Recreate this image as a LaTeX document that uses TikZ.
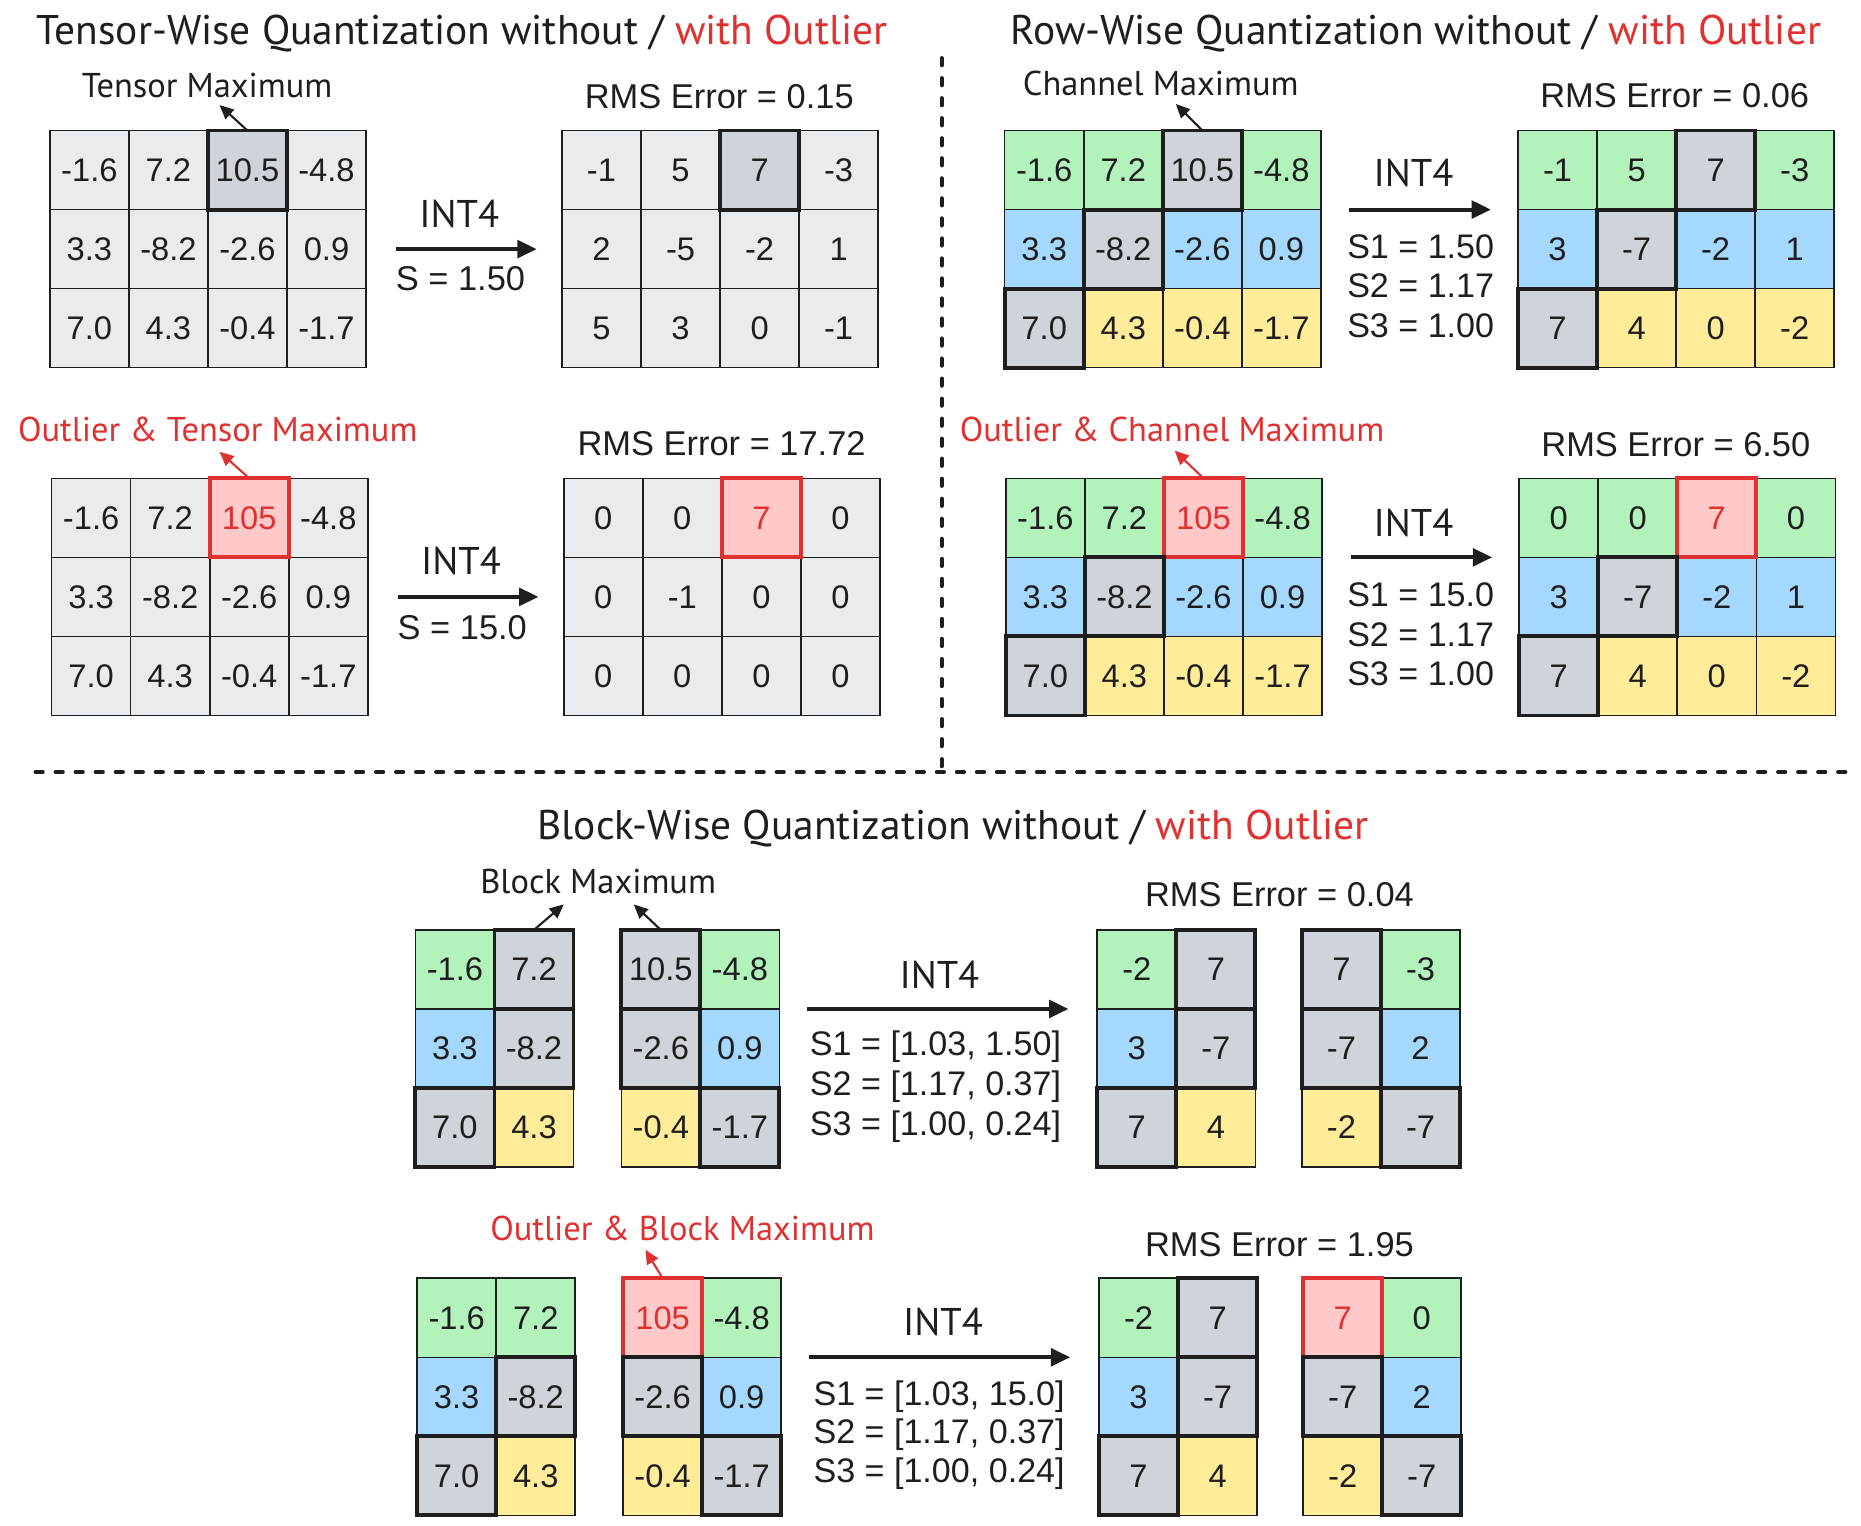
\documentclass[tikz,border=0pt]{standalone}
\usepackage{fontspec}
\setmainfont{Liberation Sans}
\newfontfamily\handfont{PT Sans}
\usetikzlibrary{arrows.meta, positioning}

\definecolor{ink}{HTML}{1E1E1E}
\definecolor{cellgray}{HTML}{E9ECEF}
\definecolor{maxgray}{HTML}{CED4DA}
\definecolor{rowgreen}{HTML}{B2F2BB}
\definecolor{rowblue}{HTML}{A5D8FF}
\definecolor{rowyellow}{HTML}{FFEC99}
\definecolor{outfill}{HTML}{FFC9C9}
\definecolor{outred}{HTML}{E03131}

% grid of cells: name, left, top, columns, list of style/value
\newcommand{\qgrid}[5]{%
  \foreach \s/\v [count=\i from 0] in {#5} {
    \pgfmathtruncatemacro{\c}{mod(\i,#4)}
    \pgfmathtruncatemacro{\r}{div(\i,#4)}
    \node[cell, \s] (#1-\i) at (#2+\c*66.6, #3+\r*66.6) {\v};
  }
  \foreach \s/\v [count=\i from 0] in {#5}
    \draw[\s-rim] (#1-\i.north west) rectangle (#1-\i.south east);
}

\begin{document}
\begin{tikzpicture}[x=0.011869cm, y=-0.011869cm,
  cell/.style={draw=ink, line width=0.45pt, minimum width=0.7905cm, minimum height=0.7905cm,
    inner sep=0pt, outer sep=0pt, anchor=north west, text=ink, font=\fontsize{9.3}{11}\selectfont},
  lg/.style={fill=cellgray}, gy/.style={fill=maxgray}, gn/.style={fill=rowgreen},
  bl/.style={fill=rowblue}, yl/.style={fill=rowyellow}, rd/.style={fill=outfill, text=outred},
  lg-rim/.style={draw=none}, gn-rim/.style={draw=none}, bl-rim/.style={draw=none}, yl-rim/.style={draw=none},
  gy-rim/.style={draw=ink, line width=1.1pt}, rd-rim/.style={draw=outred, line width=1.1pt},
  headline/.style={font=\handfont\fontsize{11.8}{14}\selectfont, text=ink},
  hand/.style={font=\handfont\fontsize{9.8}{12}\selectfont, text=ink},
  int/.style={font=\handfont\fontsize{11}{13}\selectfont, text=ink},
  rms/.style={font=\fontsize{9.8}{12}\selectfont, text=ink},
  slabel/.style={font=\fontsize{9.7}{11.3}\selectfont, text=ink, align=left},
  qarrow/.style={-{Triangle[length=5.5pt, width=5pt]}, line width=1.1pt, draw=ink},
  note/.style={-{Triangle[length=4pt, width=3.6pt]}, line width=0.6pt, draw=ink},
  divider/.style={draw=ink, line width=1.2pt, line cap=round, dash pattern=on 2pt off 3.7pt}]
  \useasboundingbox (0,0) rectangle (1568,1285);

  % tensor-wise
  \node[headline] (title1) at (389.5,28) {Tensor-Wise Quantization without / \textcolor{outred}{with Outlier}};
  \qgrid{t1}{42}{110}{4}{lg/-1.6, lg/7.2, gy/10.5, lg/-4.8, lg/3.3, lg/-8.2, lg/-2.6, lg/0.9, lg/7.0, lg/4.3, lg/-0.4, lg/-1.7}
  \qgrid{t2}{473.5}{110}{4}{lg/-1, lg/5, gy/7, lg/-3, lg/2, lg/-5, lg/-2, lg/1, lg/5, lg/3, lg/0, lg/-1}
  \qgrid{t3}{43.5}{403}{4}{lg/-1.6, lg/7.2, rd/105, lg/-4.8, lg/3.3, lg/-8.2, lg/-2.6, lg/0.9, lg/7.0, lg/4.3, lg/-0.4, lg/-1.7}
  \qgrid{t4}{475}{403}{4}{lg/0, lg/0, rd/7, lg/0, lg/0, lg/-1, lg/0, lg/0, lg/0, lg/0, lg/0, lg/0}
  \node[hand] (tmax) at (174.5,72) {Tensor Maximum};
  \node[hand, text=outred] (tout) at (183.5,362) {Outlier \& Tensor Maximum};
  \coordinate (tmaxtip) at (185,88.5);
  \coordinate (touttip) at (185,380.6);
  \draw[note] (t1-2.north) -- (tmaxtip);
  \draw[note, draw=outred] (t3-2.north) -- (touttip);
  \node[rms] (trms1) at (606,81.5) {RMS Error = 0.15};
  \node[rms] (trms2) at (608,373.5) {RMS Error = 17.72};
  \draw[qarrow, shorten <=8.6pt, shorten >=7.2pt] (t1-7.east) -- (t2-4.west);
  \draw[qarrow, shorten <=8.6pt, shorten >=7.2pt] (t3-7.east) -- (t4-4.west);
  \node[int] (tint1) at (387,180) {INT4};
  \node[int] (tint2) at (388.5,473) {INT4};
  \node[rms] (ts1) at (388,235) {S = 1.50};
  \node[rms] (ts2) at (389.5,528.5) {S = 15.0};

  % row-wise
  \node[headline] (title2) at (1193,28) {Row-Wise Quantization without / \textcolor{outred}{with Outlier}};
  \qgrid{r1}{846.5}{110}{4}{gn/-1.6, gn/7.2, gy/10.5, gn/-4.8, bl/3.3, gy/-8.2, bl/-2.6, bl/0.9, gy/7.0, yl/4.3, yl/-0.4, yl/-1.7}
  \qgrid{r2}{1279}{110}{4}{gn/-1, gn/5, gy/7, gn/-3, bl/3, gy/-7, bl/-2, bl/1, gy/7, yl/4, yl/0, yl/-2}
  \qgrid{r3}{847.5}{403}{4}{gn/-1.6, gn/7.2, rd/105, gn/-4.8, bl/3.3, gy/-8.2, bl/-2.6, bl/0.9, gy/7.0, yl/4.3, yl/-0.4, yl/-1.7}
  \qgrid{r4}{1280}{403}{4}{gn/0, gn/0, rd/7, gn/0, bl/3, gy/-7, bl/-2, bl/1, gy/7, yl/4, yl/0, yl/-2}
  \node[hand] (cmax) at (978,70) {Channel Maximum};
  \node[hand, text=outred] (cout) at (987.5,362) {Outlier \& Channel Maximum};
  \coordinate (cmaxtip) at (990.7,87.6);
  \coordinate (couttip) at (989.7,379.7);
  \draw[note] (r1-2.north) -- (cmaxtip);
  \draw[note, draw=outred] (r3-2.north) -- (couttip);
  \node[rms] (rrms1) at (1411,81) {RMS Error = 0.06};
  \node[rms] (rrms2) at (1412,375) {RMS Error = 6.50};
  \draw[qarrow, shorten <=8.1pt, shorten >=7.7pt] (r1-3.south east) -- (r2-0.south west);
  \draw[qarrow, shorten <=8.1pt, shorten >=7.7pt] (r3-3.south east) -- (r4-0.south west);
  \node[int] (rint1) at (1191,146) {INT4};
  \node[int] (rint2) at (1191,441) {INT4};
  \node[slabel] (rs1) at (1197,241) {S1 = 1.50\\S2 = 1.17\\S3 = 1.00};
  \node[slabel] (rs2) at (1197,534.5) {S1 = 15.0\\S2 = 1.17\\S3 = 1.00};

  \draw[divider] (793.4,49) -- (793.4,650.5);
  \draw[divider] (30,650.5) -- (1556,650.5);

  % block-wise
  \node[headline] (title3) at (803,698) {Block-Wise Quantization without / \textcolor{outred}{with Outlier}};
  \qgrid{bA}{350}{783.5}{2}{gn/-1.6, gy/7.2, bl/3.3, gy/-8.2, gy/7.0, yl/4.3}
  \qgrid{bB}{523.5}{783.5}{2}{gy/10.5, gn/-4.8, gy/-2.6, bl/0.9, yl/-0.4, gy/-1.7}
  \qgrid{bC}{924.5}{783.5}{2}{gn/-2, gy/7, bl/3, gy/-7, gy/7, yl/4}
  \qgrid{bD}{1097}{783.5}{2}{gy/7, gn/-3, gy/-7, bl/2, yl/-2, gy/-7}
  \qgrid{bE}{351.5}{1077}{2}{gn/-1.6, gn/7.2, bl/3.3, gy/-8.2, gy/7.0, yl/4.3}
  \qgrid{bF}{525}{1077}{2}{rd/105, gn/-4.8, gy/-2.6, bl/0.9, yl/-0.4, gy/-1.7}
  \qgrid{bG}{926}{1077}{2}{gn/-2, gy/7, bl/3, gy/-7, gy/7, yl/4}
  \qgrid{bH}{1098}{1077}{2}{rd/7, gn/0, gy/-7, bl/2, yl/-2, gy/-7}
  \node[hand] (bmax) at (504,743) {Block Maximum};
  \node[hand, text=outred] (bout) at (575,1035) {Outlier \& Block Maximum};
  \coordinate (bmaxtip1) at (475,762);
  \coordinate (bmaxtip2) at (534,762);
  \coordinate (bouttip) at (543.8,1053);
  \draw[note] (bA-1.north) -- (bmaxtip1);
  \draw[note] (bB-0.north) -- (bmaxtip2);
  \draw[note, draw=outred] (bF-0.north) -- (bouttip);
  \node[rms] (brms1) at (1078,754) {RMS Error = 0.04};
  \node[rms] (brms2) at (1078,1049) {RMS Error = 1.95};
  \draw[qarrow, shorten <=7.8pt, shorten >=8.2pt] (bB-1.south east) -- (bC-0.south west);
  \draw[qarrow, shorten <=7.8pt, shorten >=8.2pt] (bF-1.south east) -- (bG-0.south west);
  \node[int] (bint1) at (791.5,821.5) {INT4};
  \node[int] (bint2) at (794.5,1113.5) {INT4};
  \node[slabel, anchor=west] (bs1) at (672,915.6) {S1 = [1.03, 1.50]\\S2 = [1.17, 0.37]\\S3 = [1.00, 0.24]};
  \node[slabel, anchor=west, font=\fontsize{9.7}{11}\selectfont] (bs2) at (675,1209) {S1 = [1.03, 15.0]\\S2 = [1.17, 0.37]\\S3 = [1.00, 0.24]};
\end{tikzpicture}
\end{document}
